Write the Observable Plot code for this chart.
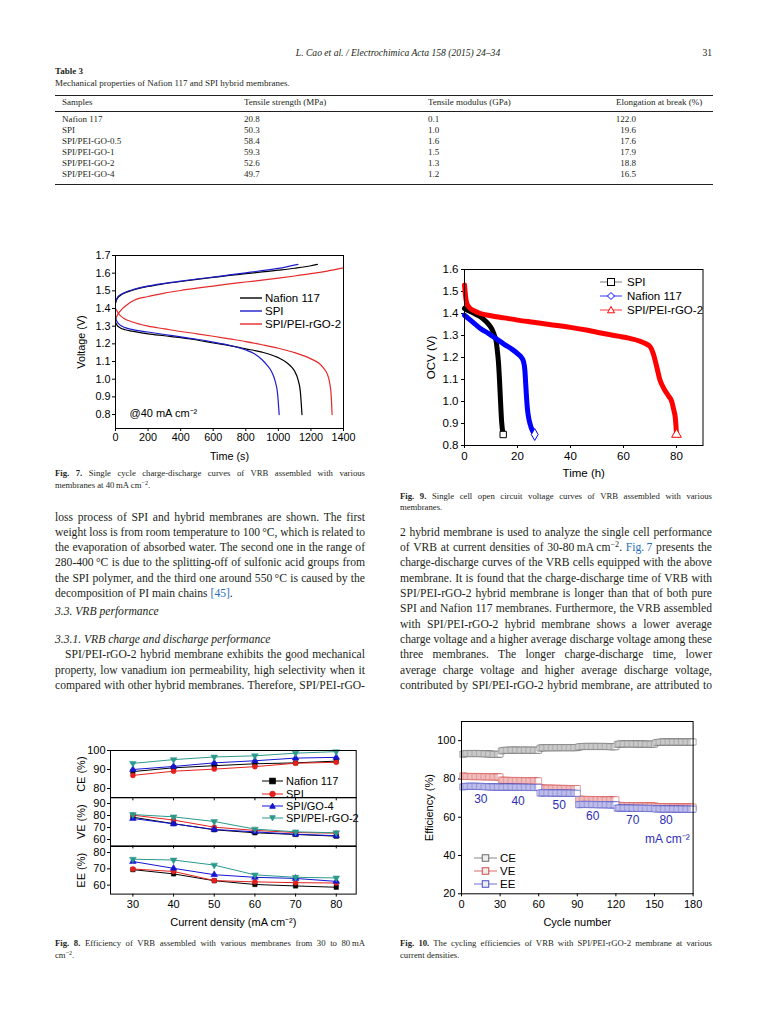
<!DOCTYPE html>
<html><head><meta charset="utf-8">
<script src="https://cdn.jsdelivr.net/npm/d3@7"></script>
<script src="https://cdn.jsdelivr.net/npm/@observablehq/plot@0.6"></script>
<style>
html,body{margin:0;padding:0;background:#fff;}
body{width:768px;height:1024px;position:relative;overflow:hidden;font-family:"Liberation Serif","DejaVu Serif",serif;color:#231f20;}
.line{position:absolute;white-space:nowrap;}
.line sup{font-size:70%;line-height:0;vertical-align:0.45em;}
.fig{position:absolute;}
.fig svg{overflow:visible;display:block;}
.leg{position:absolute;font-family:"Liberation Sans",Arial,sans-serif;display:flex;align-items:center;white-space:nowrap;color:#000;}
.rule{position:absolute;background:#231f20;}
</style></head><body>
<script>
// ---------------- DATA ----------------
// Table 3
const tableHeaders = ["Samples", "Tensile strength (MPa)", "Tensile modulus (GPa)", "Elongation at break (%)"];
const tableSamples = ["Nafion 117", "SPI", "SPI/PEI-GO-0.5", "SPI/PEI-GO-1", "SPI/PEI-GO-2", "SPI/PEI-GO-4"];
const tableStrength = ["20.8", "50.3", "58.4", "59.3", "52.6", "49.7"];
const tableModulus = ["0.1", "1.0", "1.6", "1.5", "1.3", "1.2"];
const tableElongation = ["122.0", "19.6", "17.6", "17.9", "18.8", "16.5"];

// Fig. 7  charge / discharge curves at 40 mA cm-2
const fig7Series = ["Nafion 117", "SPI", "SPI/PEI-rGO-2"];
const fig7TimeTicks = [0, 200, 400, 600, 800, 1000, 1200, 1400];
const fig7VoltTicks = [0.8, 0.9, 1.0, 1.1, 1.2, 1.3, 1.4, 1.5, 1.6, 1.7];
const nafionChargeT = [0, 10, 30, 60, 100, 200, 300, 400, 500, 600, 700, 800, 900, 1000, 1100, 1200, 1240];
const nafionChargeV = [1.43, 1.455, 1.474, 1.489, 1.502, 1.525, 1.54, 1.553, 1.565, 1.576, 1.587, 1.597, 1.607, 1.617, 1.628, 1.642, 1.65];
const spiChargeT = [0, 10, 30, 60, 100, 200, 300, 400, 500, 600, 700, 800, 900, 1000, 1120];
const spiChargeV = [1.437, 1.46, 1.478, 1.492, 1.505, 1.527, 1.542, 1.555, 1.567, 1.578, 1.59, 1.602, 1.614, 1.627, 1.65];
const rgoChargeT = [0, 10, 20, 40, 70, 100, 200, 300, 400, 500, 600, 700, 800, 900, 1000, 1100, 1200, 1300, 1400];
const rgoChargeV = [1.335, 1.36, 1.375, 1.397, 1.42, 1.44, 1.468, 1.487, 1.502, 1.515, 1.527, 1.539, 1.55, 1.561, 1.572, 1.584, 1.597, 1.612, 1.63];
const nafionDischargeT = [0, 10, 30, 60, 100, 200, 300, 400, 500, 600, 700, 800, 900, 950, 1000, 1050, 1080, 1100, 1120, 1135, 1145];
const nafionDischargeV = [1.322, 1.305, 1.29, 1.28, 1.272, 1.257, 1.246, 1.235, 1.222, 1.205, 1.19, 1.172, 1.153, 1.14, 1.122, 1.095, 1.07, 1.045, 1.0, 0.93, 0.8];
const spiDischargeT = [0, 10, 30, 60, 100, 200, 300, 400, 500, 600, 700, 800, 850, 900, 930, 960, 980, 995, 1005];
const spiDischargeV = [1.345, 1.325, 1.305, 1.292, 1.282, 1.267, 1.253, 1.24, 1.226, 1.21, 1.192, 1.165, 1.145, 1.11, 1.08, 1.04, 0.99, 0.92, 0.8];
const rgoDischargeT = [0, 20, 50, 100, 200, 300, 400, 500, 600, 700, 800, 900, 1000, 1100, 1200, 1250, 1280, 1300, 1315, 1325, 1330];
const rgoDischargeV = [1.40, 1.37, 1.345, 1.325, 1.30, 1.285, 1.27, 1.257, 1.243, 1.228, 1.213, 1.195, 1.175, 1.15, 1.115, 1.09, 1.06, 1.03, 0.98, 0.9, 0.8];
const fig7Note = "@40 mA cm⁻²";

// Fig. 9  open circuit voltage
const fig9Series = ["SPI", "Nafion 117", "SPI/PEI-rGO-2"];
const fig9TimeTicks = [0, 20, 40, 60, 80];
const fig9OcvTicks = [0.8, 0.9, 1.0, 1.1, 1.2, 1.3, 1.4, 1.5, 1.6];
const ocvSpiT = [0, 2, 4, 6, 8, 9.5, 10.5, 11.3, 12.0, 12.4, 12.8, 13.2, 13.6, 14.0, 14.6];
const ocvSpiV = [1.423, 1.41, 1.398, 1.385, 1.365, 1.345, 1.325, 1.30, 1.27, 1.23, 1.18, 1.10, 1.0, 0.91, 0.85];
const ocvNafionT = [0, 2, 4, 6, 9, 12, 15, 18, 20, 21.5, 22.3, 22.8, 23.1, 23.4, 23.8, 24.4, 25.2, 26.5];
const ocvNafionV = [1.392, 1.372, 1.352, 1.332, 1.31, 1.285, 1.26, 1.237, 1.218, 1.2, 1.18, 1.14, 1.08, 1.02, 0.96, 0.915, 0.88, 0.85];
const ocvRgoT = [0, 0.3, 0.9, 2, 4, 6, 10, 15, 20, 26, 32, 40, 46, 52, 58, 62, 66, 68, 70, 71.3, 72.5, 73.7, 75.2, 77, 78.2, 79, 79.5, 79.8, 80];
const ocvRgoV = [1.53, 1.49, 1.445, 1.425, 1.41, 1.40, 1.39, 1.38, 1.37, 1.36, 1.35, 1.337, 1.325, 1.31, 1.297, 1.288, 1.275, 1.265, 1.25, 1.215, 1.16, 1.1, 1.06, 1.025, 1.0, 0.96, 0.93, 0.89, 0.85];

// Fig. 8  efficiencies vs current density
const fig8Series = ["Nafion 117", "SPI", "SPI/GO-4", "SPI/PEI-rGO-2"];
const fig8Density = [30, 40, 50, 60, 70, 80];
const ceNafion = [88.9, 90.9, 92.0, 93.0, 93.5, 94.4];
const ceSpi = [86.9, 89.1, 90.2, 91.5, 93.3, 93.8];
const ceGo4 = [90.0, 91.6, 93.5, 94.6, 96.0, 96.4];
const ceRgo = [93.2, 95.2, 96.6, 97.2, 98.6, 99.4];
const veNafion = [78.6, 73.2, 68.1, 65.6, 64.2, 62.8];
const veSpi = [80.3, 76.2, 70.3, 67.6, 65.8, 65.3];
const veGo4 = [77.5, 73.1, 68.4, 66.4, 64.4, 63.2];
const veRgo = [80.8, 78.9, 75.0, 68.7, 66.4, 65.6];
const eeNafion = [69.5, 66.9, 62.7, 60.4, 59.5, 58.7];
const eeSpi = [69.9, 68.4, 62.8, 62.0, 61.5, 61.3];
const eeGo4 = [74.5, 70.3, 66.4, 64.8, 64.1, 62.3];
const eeRgo = [75.9, 75.4, 72.3, 66.3, 64.8, 64.4];
const ceTicks = [80, 90, 100];
const veTicks = [60, 70, 80, 90];
const eeTicks = [60, 70, 80];

// Fig. 10  cycling efficiencies (cycles 1-180)
const fig10Metrics = ["CE", "VE", "EE"];
const fig10CycleTicks = [0, 30, 60, 90, 120, 150, 180];
const fig10EffTicks = [20, 40, 60, 80, 100];
const cycleCE = [
92.9,93.1,93.2,93.3,93.2,93.3,93.3,93.2,93.3,93.2,93.3,93.3,93.2,93.2,93.3,93.2,93.2,93.1,93.2,93.1,93.1,93.0,93.0,92.9,92.9,92.8,92.8,92.9,92.8,93.0,
94.6,94.8,94.9,94.9,95.0,95.0,94.9,95.0,95.0,95.1,95.0,95.0,95.1,95.0,95.0,94.9,95.0,95.0,95.1,95.0,95.0,94.9,95.0,95.0,95.0,94.9,95.0,95.0,94.9,95.0,
96.1,96.2,96.3,96.3,96.2,96.4,96.3,96.3,96.4,96.3,96.3,96.4,96.3,96.4,96.3,96.3,96.4,96.4,96.3,96.4,96.3,96.4,96.4,96.3,96.4,96.3,96.4,96.3,96.4,96.4,
96.7,96.8,96.9,96.9,97.0,96.9,97.0,97.0,96.9,97.0,97.0,96.9,97.0,97.0,97.0,96.9,97.0,96.9,97.0,97.0,96.9,96.9,97.0,96.9,96.9,96.8,96.9,96.8,96.8,96.9,
98.0,98.1,98.2,98.3,98.3,98.2,98.3,98.3,98.4,98.3,98.3,98.4,98.3,98.3,98.2,98.3,98.3,98.2,98.3,98.2,98.3,98.2,98.2,98.1,98.2,98.1,98.1,98.2,98.1,98.2,
98.9,99.0,99.1,99.2,99.2,99.3,99.2,99.3,99.3,99.2,99.3,99.3,99.3,99.2,99.3,99.3,99.2,99.3,99.3,99.2,99.3,99.3,99.2,99.3,99.2,99.3,99.3,99.2,99.3,99.3];
const cycleVE = [
81.6,81.4,81.4,81.3,81.3,81.3,81.2,81.3,81.2,81.3,81.2,81.2,81.3,81.2,81.2,81.2,81.1,81.2,81.2,81.1,81.2,81.1,81.1,81.2,81.1,81.1,81.0,81.1,81.0,81.1,
79.4,79.3,79.3,79.2,79.2,79.3,79.2,79.2,79.1,79.2,79.2,79.1,79.2,79.1,79.1,79.2,79.1,79.1,79.0,79.1,79.1,79.0,79.1,79.0,79.0,79.1,79.0,79.0,78.9,79.0,
75.4,75.3,75.2,75.2,75.2,75.1,75.2,75.1,75.1,75.2,75.1,75.1,75.0,75.1,75.1,75.0,75.1,75.0,75.0,75.1,75.0,75.0,74.9,75.0,75.0,74.9,75.0,74.9,74.9,75.0,
69.5,69.4,69.4,69.3,69.3,69.3,69.2,69.3,69.2,69.2,69.3,69.2,69.2,69.1,69.2,69.2,69.1,69.1,69.2,69.1,69.1,69.0,69.1,69.1,69.0,69.1,69.0,69.0,69.0,69.1,
66.3,66.2,66.2,66.1,66.1,66.1,66.0,66.1,66.0,66.1,66.0,66.0,66.1,66.0,66.0,65.9,66.0,66.0,65.9,66.0,65.9,65.9,66.0,65.9,65.9,65.8,65.9,65.9,65.8,65.9,
65.7,65.6,65.6,65.5,65.5,65.6,65.5,65.5,65.4,65.5,65.5,65.4,65.5,65.4,65.4,65.5,65.4,65.4,65.3,65.4,65.4,65.3,65.4,65.3,65.3,65.4,65.3,65.3,65.2,65.3];
const cycleEE = [
75.8,76.0,76.1,76.1,76.1,76.2,76.1,76.2,76.1,76.1,76.2,76.1,76.1,76.0,76.1,76.1,76.0,76.0,75.9,76.0,75.9,75.9,75.8,75.9,75.8,75.8,75.7,75.8,75.7,75.8,
75.6,75.7,75.7,75.7,75.8,75.7,75.7,75.8,75.7,75.7,75.7,75.6,75.7,75.7,75.6,75.7,75.6,75.6,75.7,75.6,75.6,75.5,75.6,75.6,75.5,75.6,75.5,75.5,75.5,75.6,
72.6,72.7,72.7,72.7,72.8,72.7,72.7,72.8,72.7,72.7,72.6,72.7,72.7,72.6,72.7,72.6,72.6,72.7,72.6,72.6,72.5,72.6,72.6,72.5,72.6,72.5,72.5,72.5,72.4,72.5,
66.5,66.6,66.7,66.7,66.7,66.6,66.7,66.7,66.6,66.7,66.6,66.6,66.7,66.6,66.6,66.5,66.6,66.6,66.5,66.6,66.5,66.5,66.6,66.5,66.5,66.4,66.5,66.5,66.4,66.5,
64.7,64.8,64.8,64.8,64.7,64.8,64.8,64.7,64.8,64.7,64.7,64.8,64.7,64.7,64.6,64.7,64.7,64.6,64.7,64.6,64.6,64.7,64.6,64.6,64.5,64.6,64.6,64.5,64.6,64.5,
64.3,64.4,64.4,64.4,64.3,64.4,64.3,64.4,64.3,64.3,64.4,64.3,64.3,64.2,64.3,64.3,64.2,64.3,64.2,64.2,64.3,64.2,64.2,64.1,64.2,64.2,64.1,64.2,64.1,64.2];
const fig10LabelText = ["30", "40", "50", "60", "70", "80", "mA cm⁻²"];
const fig10LabelCycle = [15, 44, 76, 102, 133, 159, 160];
const fig10LabelEff = [69.2, 68.6, 66.4, 60.3, 58.3, 58.3, 48.4];

// ---------------- HELPERS ----------------
const serif = '"Liberation Serif","DejaVu Serif",serif';
const sans = '"Liberation Sans",Arial,Helvetica,sans-serif';

function textLine(html, x, y, size, opts = {}) {
  const d = document.createElement("div");
  d.className = "line";
  Object.assign(d.style, {
    left: x + "px", top: (y - size * 0.62) + "px", fontSize: size + "px", lineHeight: (size * 1.2) + "px",
    fontFamily: opts.family || serif, fontStyle: opts.italic ? "italic" : "normal",
    fontWeight: opts.bold ? "bold" : "normal", color: opts.color || "#231f20"
  });
  d.innerHTML = html;
  document.body.appendChild(d);
  const nat = d.getBoundingClientRect().width;
  if (opts.align === "right") d.style.left = (x - nat) + "px";
  if (opts.align === "center") d.style.left = (x - nat / 2) + "px";
  if (opts.width) {
    if (nat > opts.width) {
      d.style.transformOrigin = "0 0";
      d.style.transform = `scaleX(${opts.width / nat})`;
    } else if (opts.justify) {
      const n = (d.textContent.match(/ /g) || []).length;
      if (n) d.style.wordSpacing = ((opts.width - nat) / n) + "px";
    }
  }
  return d;
}
function rule(x, y, w, h) {
  const r = document.createElement("div");
  r.className = "rule";
  Object.assign(r.style, {left: x + "px", top: y + "px", width: w + "px", height: h + "px"});
  document.body.appendChild(r);
}
function placeFig(node, left, top) {
  const c = document.createElement("div");
  c.className = "fig";
  c.style.left = left + "px";
  c.style.top = top + "px";
  c.appendChild(node);
  document.body.appendChild(c);
}
function marker(kind, cx, cy, s, stroke, fill) {
  const h = s / 2;
  if (kind === "square") return `<rect x="${cx - h}" y="${cy - h}" width="${s}" height="${s}" stroke="${stroke}" fill="${fill}" stroke-width="1"/>`;
  if (kind === "circle") return `<circle cx="${cx}" cy="${cy}" r="${h}" stroke="${stroke}" fill="${fill}"/>`;
  if (kind === "up") return `<polygon points="${cx},${cy - h} ${cx + h},${cy + h * 0.8} ${cx - h},${cy + h * 0.8}" stroke="${stroke}" fill="${fill}"/>`;
  if (kind === "down") return `<polygon points="${cx},${cy + h} ${cx + h},${cy - h * 0.8} ${cx - h},${cy - h * 0.8}" stroke="${stroke}" fill="${fill}"/>`;
  if (kind === "diamond") return `<polygon points="${cx},${cy - h} ${cx + h},${cy} ${cx},${cy + h} ${cx - h},${cy}" stroke="${stroke}" fill="${fill}"/>`;
  return "";
}
function legendRow(o) {
  const d = document.createElement("div");
  d.className = "leg";
  Object.assign(d.style, {left: o.x + "px", top: (o.y - 8) + "px", height: "16px", fontSize: o.fontSize + "px"});
  d.innerHTML = `<svg width="${o.len}" height="16" style="overflow:visible"><line x1="0" y1="8" x2="${o.len}" y2="8" stroke="${o.lineColor}" stroke-width="${o.lineWidth || 1.2}"/>${o.kind ? marker(o.kind, o.len / 2, 8, o.msize, o.color, o.mfill) : ""}</svg><span style="margin-left:${o.gap}px">${o.label}</span>`;
  document.body.appendChild(d);
}
const triangleDown = {
  draw(context, size) {
    const y = Math.sqrt(size / (Math.sqrt(3) * 3));
    context.moveTo(0, 2 * y);
    context.lineTo(Math.sqrt(3) * y, -y);
    context.lineTo(-Math.sqrt(3) * y, -y);
    context.closePath();
  }
};
function rowsOf(series, xs, ys, extra = {}) {
  return xs.map((x, i) => ({series, x, y: ys[i], ...extra}));
}

// ---------------- PAGE HEADER & TABLE ----------------
textLine("L. Cao et al. / Electrochimica Acta 158 (2015) 24–34", 398, 53, 9.6, {italic: true, align: "center"});
textLine("31", 712, 53, 9.6, {align: "right"});
textLine("Table 3", 55, 72, 9, {bold: true});
textLine("Mechanical properties of Nafion 117 and SPI hybrid membranes.", 55, 84, 9);
rule(55, 94.5, 658, 1.4);
const colX = [62, 244, 428, 616];
tableHeaders.forEach((h, i) => textLine(h, colX[i], 103, 9));
rule(55, 110.5, 658, 0.7);
tableSamples.forEach((s, r) => {
  const y = 120 + r * 11;
  textLine(s, colX[0], y, 9);
  textLine(tableStrength[r], colX[1], y, 9);
  textLine(tableModulus[r], colX[2], y, 9);
  textLine(tableElongation[r], 636, y, 9, {align: "right"});
});
rule(55, 183.5, 658, 1.4);

// ---------------- FIG. 7 ----------------
const fig7Colors = ["#000000", "#1d1dcc", "#e52a2a"];
const fig7Rows = [
  ...rowsOf("Nafion 117", nafionChargeT, nafionChargeV, {phase: "c"}),
  ...rowsOf("SPI", spiChargeT, spiChargeV, {phase: "c"}),
  ...rowsOf("SPI/PEI-rGO-2", rgoChargeT, rgoChargeV, {phase: "c"}),
  ...rowsOf("Nafion 117", nafionDischargeT, nafionDischargeV, {phase: "d"}),
  ...rowsOf("SPI", spiDischargeT, spiDischargeV, {phase: "d"}),
  ...rowsOf("SPI/PEI-rGO-2", rgoDischargeT, rgoDischargeV, {phase: "d"})
];
const fig7 = Plot.plot({
  width: 300, height: 220, marginLeft: 55, marginRight: 17, marginTop: 10, marginBottom: 37,
  style: {fontFamily: sans, fontSize: "10.8px", background: "transparent", color: "#000", overflow: "visible"},
  x: {domain: [0, 1400], ticks: fig7TimeTicks, tickFormat: d3.format("d"), tickSize: 3, tickPadding: 2, label: "Time (s)", labelAnchor: "center", labelOffset: 31, labelArrow: "none"},
  y: {domain: [0.721, 1.7], ticks: fig7VoltTicks, tickFormat: d3.format(".1f"), tickSize: 3, tickPadding: 2, label: "Voltage (V)", labelAnchor: "center", labelOffset: 38, labelArrow: "none"},
  color: {domain: fig7Series, range: fig7Colors},
  marks: [
    Plot.line(fig7Rows, {x: "x", y: "y", z: d => d.series + d.phase, stroke: "series", strokeWidth: 1.2, curve: "monotone-x"}),
    Plot.frame({stroke: "#000"}),
    Plot.text([fig7Note], {frameAnchor: "bottom-left", dx: 14, dy: -12, textAnchor: "start", lineAnchor: "bottom", fontSize: 11})
  ]
});
placeFig(fig7, 60, 245);
fig7Series.forEach((s, i) => legendRow({x: 240, y: 297.7 + i * 13.3, len: 22, color: fig7Colors[i], lineColor: fig7Colors[i], lineWidth: 1.4, label: s, fontSize: 11.5, gap: 3}));

// ---------------- FIG. 9 ----------------
const fig9Colors = ["#000000", "#0000ff", "#ff0000"];
const fig9Symbols = ["square", "diamond", "triangle"];
const fig9Rows = [
  ...rowsOf("SPI", ocvSpiT, ocvSpiV),
  ...rowsOf("Nafion 117", ocvNafionT, ocvNafionV),
  ...rowsOf("SPI/PEI-rGO-2", ocvRgoT, ocvRgoV)
];
const fig9Ends = fig9Series.map(s => fig9Rows.filter(d => d.series === s).slice(-1)[0]);
const fig9 = Plot.plot({
  width: 320, height: 230, marginLeft: 64, marginRight: 17.5, marginTop: 14, marginBottom: 40,
  style: {fontFamily: sans, fontSize: "11.5px", background: "transparent", color: "#000", overflow: "visible"},
  x: {domain: [0, 90], ticks: fig9TimeTicks, tickSize: 3, tickPadding: 3, label: "Time (h)", labelAnchor: "center", labelOffset: 31, labelArrow: "none"},
  y: {domain: [0.8, 1.6], ticks: fig9OcvTicks, tickFormat: d3.format(".1f"), tickSize: 3, tickPadding: 3, label: "OCV (V)", labelAnchor: "center", labelOffset: 38, labelArrow: "none"},
  color: {domain: fig9Series, range: fig9Colors},
  marks: [
    Plot.line(fig9Rows, {x: "x", y: "y", z: "series", stroke: "series", strokeWidth: 5, curve: "monotone-x"}),
    ...fig9Series.map((s, i) => Plot.dot([fig9Ends[i]], {x: "x", y: "y", symbol: fig9Symbols[i], r: 3.6, stroke: fig9Colors[i], fill: "white", strokeWidth: 1})),
    Plot.frame({stroke: "#000"})
  ]
});
placeFig(fig9, 400, 255);
const fig9LegKinds = ["square", "diamond", "up"];
fig9Series.forEach((s, i) => legendRow({x: 600, y: 281.7 + i * 14.2, len: 22, color: fig9Colors[i], lineColor: i === 0 ? "#555" : fig9Colors[i], lineWidth: 0.8, kind: fig9LegKinds[i], msize: 7, mfill: "white", label: s, fontSize: 11.5, gap: 5}));

// ---------------- FIG. 8 ----------------
const fig8Colors = ["#000000", "#e5201c", "#1414d2", "#2b998b"];
const fig8Symbols = ["square", "circle", "triangle", triangleDown];
function fig8Rows(arrs) { return fig8Series.flatMap((s, i) => rowsOf(s, fig8Density, arrs[i])); }
function fig8Panel(label, rows, yDomain, yTicks, height, marginBottom, showX) {
  return Plot.plot({
    width: 300, height, marginLeft: 40, marginRight: 14.3, marginTop: 10, marginBottom,
    style: {fontFamily: sans, fontSize: "11px", background: "transparent", color: "#000", overflow: "visible"},
    x: showX
      ? {domain: [24.5, 84.9], ticks: fig8Density, tickSize: 3, tickPadding: 3, label: "Current density (mA cm⁻²)", labelAnchor: "center", labelOffset: 32, labelArrow: "none"}
      : {domain: [24.5, 84.9], ticks: fig8Density, tickSize: 3, tickFormat: () => "", label: null},
    y: {domain: yDomain, ticks: yTicks, tickSize: 3, tickPadding: 2, label, labelAnchor: "center", labelOffset: 33, labelArrow: "none"},
    color: {domain: fig8Series, range: fig8Colors},
    marks: [
      Plot.line(rows, {x: "x", y: "y", z: "series", stroke: "series", strokeWidth: 1}),
      ...fig8Series.map((s, i) => Plot.dot(rows.filter(d => d.series === s), {x: "x", y: "y", symbol: fig8Symbols[i], r: 2.5, fill: fig8Colors[i], stroke: fig8Colors[i], strokeWidth: 0.5})),
      Plot.frame({stroke: "#000"})
    ]
  });
}
placeFig(fig8Panel("CE (%)", fig8Rows([ceNafion, ceSpi, ceGo4, ceRgo]), [75.1, 100], ceTicks, 67.3, 10, false), 70, 740);
placeFig(fig8Panel("VE (%)", fig8Rows([veNafion, veSpi, veGo4, veRgo]), [54.7, 95], veTicks, 68.4, 10, false), 70, 787.3);
placeFig(fig8Panel("EE (%)", fig8Rows([eeNafion, eeSpi, eeGo4, eeRgo]), [54.5, 83.7], eeTicks, 99.6, 42, true), 70, 835.7);
const fig8LegKinds = ["square", "circle", "up", "down"];
const fig8LegY = [781, 793.5, 805.5, 818];
fig8Series.forEach((s, i) => legendRow({x: 262, y: fig8LegY[i], len: 21, color: fig8Colors[i], lineColor: fig8Colors[i], lineWidth: 1, kind: fig8LegKinds[i], msize: 5.5, mfill: fig8Colors[i], label: s, fontSize: 11, gap: 3}));

// ---------------- FIG. 10 ----------------
const fig10Colors = ["#6a6a6a", "#d44848", "#4a4ac4"];
const fig10Values = [cycleCE, cycleVE, cycleEE];
const fig10Rows = fig10Metrics.flatMap((m, i) => fig10Values[i].map((v, k) => ({metric: m, cycle: k + 1, eff: v})));
const fig10Labels = fig10LabelText.map((t, i) => ({text: t, cycle: fig10LabelCycle[i], eff: fig10LabelEff[i]}));
const fig10 = Plot.plot({
  width: 320, height: 225, marginLeft: 61, marginRight: 27.4, marginTop: 11, marginBottom: 41.7,
  style: {fontFamily: sans, fontSize: "11px", background: "transparent", color: "#000", overflow: "visible"},
  x: {domain: [0, 180], ticks: fig10CycleTicks, tickSize: 3, tickPadding: 3, label: "Cycle number", labelAnchor: "center", labelOffset: 32, labelArrow: "none"},
  y: {domain: [20, 110], ticks: fig10EffTicks, tickSize: 3, tickPadding: 3, label: "Efficiency (%)", labelAnchor: "center", labelOffset: 36, labelArrow: "none"},
  color: {domain: fig10Metrics, range: fig10Colors},
  marks: [
    Plot.line(fig10Rows, {x: "cycle", y: "eff", z: "metric", stroke: "metric", strokeWidth: 0.6}),
    Plot.dot(fig10Rows, {x: "cycle", y: "eff", stroke: "metric", fill: "white", symbol: "square", r: 3.4, strokeWidth: 0.55}),
    Plot.text(fig10Labels, {x: "cycle", y: "eff", text: "text", fill: "#2e2eb5", fontSize: 12}),
    Plot.frame({stroke: "#000"})
  ]
});
placeFig(fig10, 400, 710);
fig10Metrics.forEach((m, i) => legendRow({x: 474, y: 857.7 + i * 13.3, len: 23, color: fig10Colors[i], lineColor: fig10Colors[i], lineWidth: 0.8, kind: "square", msize: 6.5, mfill: "#eee", label: m, fontSize: 11.5, gap: 3}));

// ---------------- CAPTIONS ----------------
const capSize = 8.7;
textLine("<b>Fig. 7.</b> Single cycle charge-discharge curves of VRB assembled with various", 55, 473, capSize, {width: 310, justify: true});
textLine("membranes at 40&#8201;mA&#8201;cm<sup>−2</sup>.", 55, 485, capSize);
textLine("<b>Fig. 9.</b> Single cell open circuit voltage curves of VRB assembled with various", 400, 496, capSize, {width: 312, justify: true});
textLine("membranes.", 400, 507.5, capSize);
textLine("<b>Fig. 8.</b> Efficiency of VRB assembled with various membranes from 30 to 80&#8201;mA", 55, 943, capSize, {width: 310, justify: true});
textLine("cm<sup>−2</sup>.", 55, 955, capSize);
textLine("<b>Fig. 10.</b> The cycling efficiencies of VRB with SPI/PEI-rGO-2 membrane at various", 400, 943, capSize, {width: 312, justify: true});
textLine("current densities.", 400, 955, capSize);

// ---------------- BODY TEXT ----------------
const bodySize = 11.6, lh = 15.3;
const link = "#2a6ebb";
const leftLines = [
  "loss process of SPI and hybrid membranes are shown. The first",
  "weight loss is from room temperature to 100&#8201;°C, which is related to",
  "the evaporation of absorbed water. The second one in the range of",
  "280-400&#8201;°C is due to the splitting-off of sulfonic acid groups from",
  "the SPI polymer, and the third one around 550&#8201;°C is caused by the"
];
leftLines.forEach((t, i) => textLine(t, 55, 517.7 + i * lh, bodySize, {width: 310, justify: true}));
textLine(`decomposition of PI main chains <span style="color:${link}">[45]</span>.`, 55, 517.7 + 5 * lh, bodySize);
textLine("3.3. VRB performance", 55, 612, bodySize, {italic: true});
textLine("3.3.1. VRB charge and discharge performance", 55, 640, bodySize, {italic: true});
textLine("SPI/PEI-rGO-2 hybrid membrane exhibits the good mechanical", 65, 655.4, bodySize, {width: 300, justify: true});
textLine("property, low vanadium ion permeability, high selectivity when it", 55, 670.7, bodySize, {width: 310, justify: true});
textLine("compared with other hybrid membranes. Therefore, SPI/PEI-rGO-", 55, 686, bodySize, {width: 310, justify: true});
const rightLines = [
  "2 hybrid membrane is used to analyze the single cell performance",
  `of VRB at current densities of 30-80&#8201;mA&#8201;cm<sup>−2</sup>. <span style="color:${link}">Fig.&#8201;7</span> presents the`,
  "charge-discharge curves of the VRB cells equipped with the above",
  "membrane. It is found that the charge-discharge time of VRB with",
  "SPI/PEI-rGO-2 hybrid membrane is longer than that of both pure",
  "SPI and Nafion 117 membranes. Furthermore, the VRB assembled",
  "with SPI/PEI-rGO-2 hybrid membrane shows a lower average",
  "charge voltage and a higher average discharge voltage among these",
  "three membranes. The longer charge-discharge time, lower",
  "average charge voltage and higher average discharge voltage,",
  "contributed by SPI/PEI-rGO-2 hybrid membrane, are attributed to"
];
rightLines.forEach((t, i) => textLine(t, 400, 533 + i * lh, bodySize, {width: 312, justify: true}));
</script>
</body></html>
